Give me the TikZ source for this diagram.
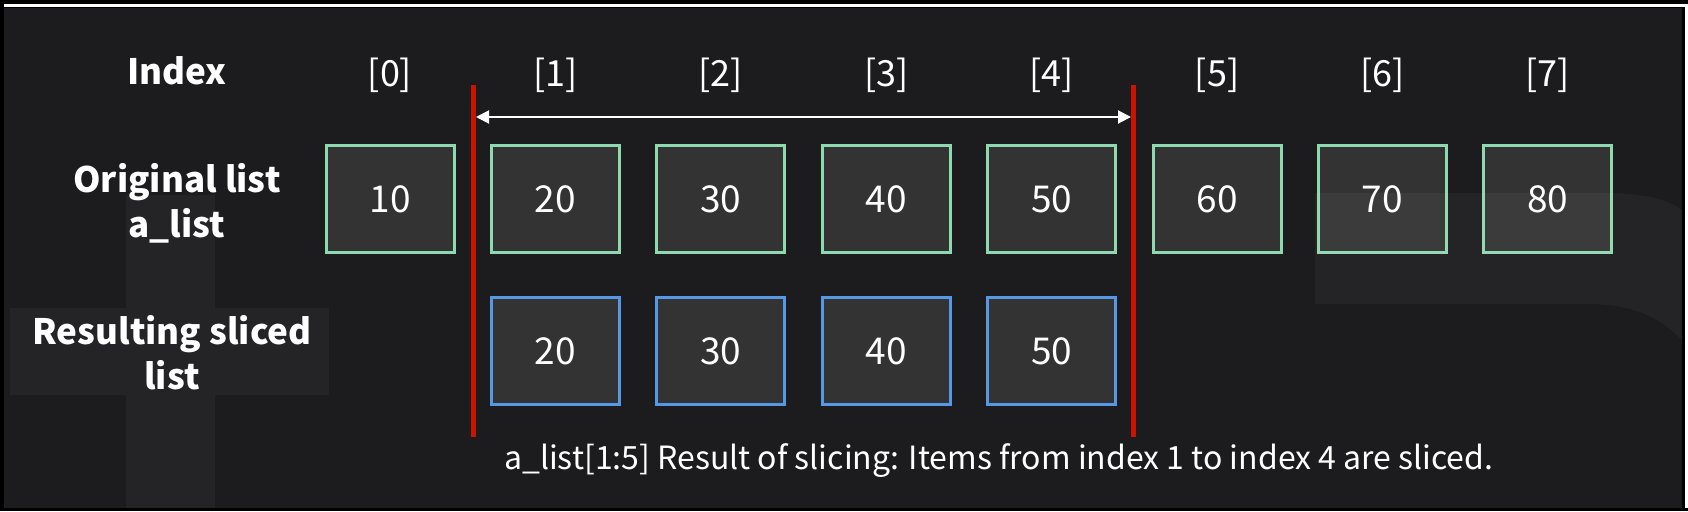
\documentclass[tikz,border=0pt]{standalone}
\usepackage{fontspec}
\setmainfont{Noto Sans CJK SC}
\usetikzlibrary{arrows.meta}
\definecolor{bgc}{HTML}{1C1B1E}
\definecolor{boxfill}{HTML}{333333}
\definecolor{mint}{HTML}{8FD9B0}
\definecolor{skyb}{HTML}{5599E6}
\definecolor{cutred}{HTML}{C81400}
\tikzset{
  cell/.style={draw=mint, line width=3pt, fill=boxfill, minimum width=128pt, minimum height=107pt, inner sep=0pt, text=white, font=\fontsize{37}{40}\selectfont},
  slicecell/.style={cell, draw=skyb},
  idx/.style={text=white, inner sep=0pt, font=\fontsize{36}{40}\selectfont},
  rowlabel/.style={text=white, inner sep=0pt, align=center, font=\fontsize{35}{45}\selectfont\bfseries},
  cutline/.style={draw=cutred, line width=5pt},
  span/.style={draw=white, line width=2pt, {Triangle[length=13pt,width=13pt]}-{Triangle[length=13pt,width=13pt]}},
  note/.style={text=white, inner sep=0pt, font=\fontsize{32}{36}\selectfont},
  wmark/.style={fill=white, fill opacity=0.04, draw=none}
}
\begin{document}
\begin{tikzpicture}[x=1pt,y=-1pt]
\useasboundingbox (0,0) rectangle (1688,511);
\fill[black] (0,0) rectangle (1688,511);
\fill[bgc] (4,8) rectangle (1682,508);
\fill[white] (4,4.5) rectangle (1688,7.5);
\fill[white] (1684.5,4.5) rectangle (1687.5,508);

% labels
\node[rowlabel] (lidx) at (177,71) {Index};
\node[rowlabel] (lorig) at (177,203.5) {Original list\\a\_list};
\node[rowlabel] (lres) at (172,353) {Resulting sliced\\list};

% index labels and original boxes
\foreach \i/\v in {0/10,1/20,2/30,3/40,4/50,5/60,6/70,7/80}{
  \node[idx] (i\i) at ({390+165.4*\i},75) {[\i]};
  \node[cell] (o\i) at ({390+165.4*\i},199) {\raisebox{-3pt}{\v}};
}
% sliced boxes
\foreach \i/\v in {1/20,2/30,3/40,4/50}{
  \node[slicecell] (s\i) at ({390+165.4*\i},351) {\raisebox{-3pt}{\v}};
}

% cut lines
\coordinate (c1t) at (473.5,85);
\coordinate (c1b) at (473.5,437);
\coordinate (c2t) at (1133.5,85);
\coordinate (c2b) at (1133.5,437);
\draw[cutline] (c1t) -- (c1b);
\draw[cutline] (c2t) -- (c2b);
\coordinate (al) at (476,117);
\coordinate (ar) at (1131,117);
\draw[span] (al) -- (ar);

\node[note, anchor=base west] (cap) at (504,469) {a\_list[1:5] Result of slicing: Items from index 1 to index 4 are sliced.};

% faint background marks
\fill[wmark] (126,195) rectangle (215,508);
\fill[wmark] (10,308) rectangle (126,395);
\fill[wmark] (215,308) rectangle (329,395);
\fill[wmark] (1315,193) -- (1605,193) .. controls (1645,193) and (1668,200) .. (1682,210) -- (1682,340) .. controls (1655,312) and (1625,304) .. (1585,304) -- (1315,304) -- cycle;
\end{tikzpicture}
\end{document}
